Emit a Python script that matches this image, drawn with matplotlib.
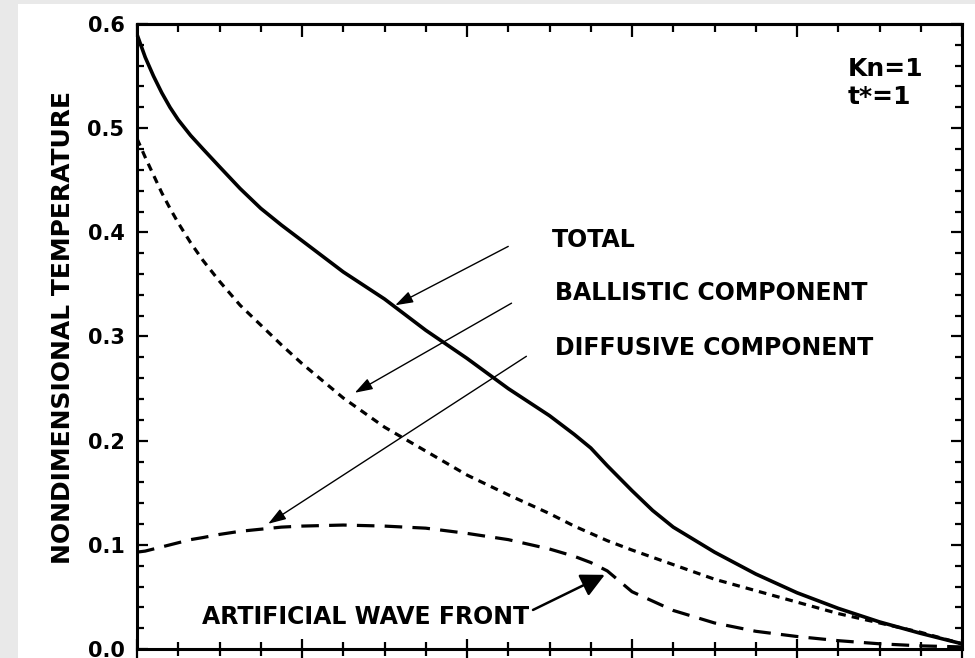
import numpy as np
import matplotlib
matplotlib.use("Agg")
import matplotlib.pyplot as plt
from matplotlib.patches import Rectangle
from matplotlib.ticker import MultipleLocator, FormatStrFormatter

plt.rcParams['font.family'] = ['DejaVu Sans']
plt.rcParams['font.weight'] = 'bold'

# nondimensional position across the film
x = [0.0, 0.01, 0.02, 0.03, 0.04, 0.05, 0.065, 0.08, 0.10, 0.125, 0.15, 0.175,
     0.20, 0.25, 0.30, 0.35, 0.40, 0.45, 0.50, 0.53, 0.55, 0.57, 0.60, 0.625,
     0.65, 0.70, 0.75, 0.80, 0.85, 0.90, 0.95, 1.0]

# temperature curves
total = [0.590, 0.568, 0.550, 0.534, 0.520, 0.508, 0.493, 0.480, 0.463, 0.442,
         0.423, 0.407, 0.392, 0.362, 0.336, 0.306, 0.279, 0.250, 0.224, 0.206,
         0.193, 0.176, 0.152, 0.133, 0.117, 0.093, 0.072, 0.054, 0.039, 0.026,
         0.015, 0.005]
ballistic = [0.490, 0.472, 0.455, 0.438, 0.423, 0.409, 0.390, 0.373, 0.353,
             0.330, 0.311, 0.292, 0.274, 0.241, 0.213, 0.190, 0.167, 0.148,
             0.130, 0.118, 0.111, 0.104, 0.095, 0.088, 0.081, 0.067, 0.056,
             0.045, 0.034, 0.025, 0.016, 0.005]
diffusive = [0.093, 0.094, 0.096, 0.098, 0.100, 0.102, 0.105, 0.107, 0.110,
             0.113, 0.115, 0.117, 0.118, 0.119, 0.118, 0.116, 0.111, 0.105,
             0.096, 0.089, 0.083, 0.075, 0.055, 0.046, 0.037, 0.025, 0.017,
             0.012, 0.008, 0.005, 0.003, 0.002]

# annotation labels, text anchor, arrow tail and arrow head (data units)
labels = ["TOTAL", "BALLISTIC COMPONENT", "DIFFUSIVE COMPONENT"]
label_pos = [(0.503, 0.393), (0.507, 0.342), (0.507, 0.289)]
arrow_tail = [(0.450, 0.3865), (0.454, 0.332), (0.472, 0.281)]
arrow_head = [(0.313, 0.330), (0.264, 0.246), (0.159, 0.1202)]

fig = plt.figure(figsize=(9.75, 6.58), dpi=100)
fig.patch.set_facecolor('#e9e9e9')
fig.patches.append(Rectangle((18 / 975, 0), 1, 1 - 4 / 658, transform=fig.transFigure,
                             facecolor='white', edgecolor='none', zorder=-5))

ax = fig.add_axes([137 / 975, 9 / 658, 825 / 975, 625 / 658])
ax.set_facecolor('white')

lw = 2.3
ax.plot(x, total, color='black', lw=2.6)
ax.plot(x, ballistic, color='black', lw=lw, dashes=(2.4, 1.9))
ax.plot(x, diffusive, color='black', lw=lw, dashes=(5.5, 3.2))

ax.set_xlim(0, 1)
ax.set_ylim(0, 0.6)
ax.xaxis.set_major_locator(MultipleLocator(0.2))
ax.xaxis.set_minor_locator(MultipleLocator(0.05))
ax.yaxis.set_major_locator(MultipleLocator(0.1))
ax.yaxis.set_minor_locator(MultipleLocator(0.02))
ax.yaxis.set_major_formatter(FormatStrFormatter('%.1f'))

for s in ax.spines.values():
    s.set_linewidth(2.2)

ax.tick_params(axis='y', which='both', direction='in', left=True, right=True, width=1.6)
ax.tick_params(axis='y', which='major', length=8, pad=9, labelsize=15)
ax.tick_params(axis='y', which='minor', length=5)
ax.tick_params(axis='x', which='both', direction='inout', bottom=True, top=False,
               width=1.6, labelbottom=False)
ax.tick_params(axis='x', which='major', length=14)
ax.tick_params(axis='x', which='minor', length=10)

# top ticks point inward only
top = ax.secondary_xaxis('top')
top.xaxis.set_major_locator(MultipleLocator(0.2))
top.xaxis.set_minor_locator(MultipleLocator(0.05))
top.tick_params(which='both', direction='in', width=1.6, labeltop=False)
top.tick_params(which='major', length=9)
top.tick_params(which='minor', length=6)
top.spines['top'].set_linewidth(2.2)

ax.set_ylabel("NONDIMENSIONAL TEMPERATURE", fontsize=18, fontweight='bold')
ax.yaxis.set_label_coords(-0.075, 0.514)

for txt, pos, tail, head in zip(labels, label_pos, arrow_tail, arrow_head):
    ax.text(pos[0], pos[1], txt, fontsize=17, fontweight='bold', ha='left', va='center')
    ax.annotate('', xy=head, xytext=tail,
                arrowprops=dict(arrowstyle='-|>,head_length=0.9,head_width=0.3',
                                mutation_scale=12, lw=1.0, color='black',
                                shrinkA=0, shrinkB=0))

ax.text(0.079, 0.031, "ARTIFICIAL WAVE FRONT", fontsize=17, fontweight='bold',
        ha='left', va='center')
ax.annotate('', xy=(0.567, 0.0712), xytext=(0.480, 0.0375),
            arrowprops=dict(arrowstyle='-|>,head_length=0.9,head_width=0.45',
                            mutation_scale=16, lw=1.8, color='black',
                            shrinkA=0, shrinkB=0))

ax.text(0.861, 0.557, "Kn=1", fontsize=18, fontweight='bold', ha='left', va='center')
ax.text(0.861, 0.530, "t*=1", fontsize=18, fontweight='bold', ha='left', va='center')

fig.savefig("out.png", dpi=100)
